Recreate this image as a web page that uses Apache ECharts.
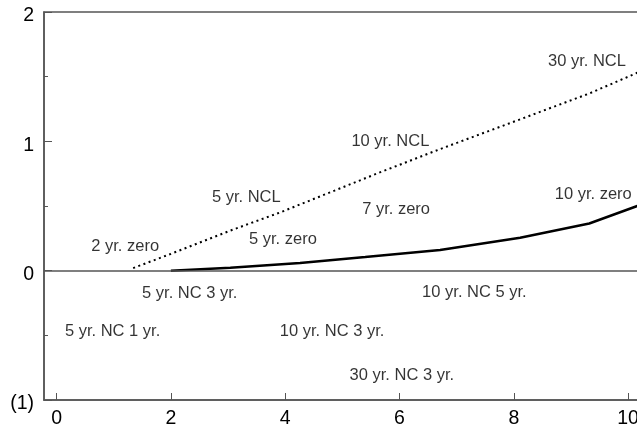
<!DOCTYPE html>
<html><head><meta charset="utf-8">
<script src="https://cdn.jsdelivr.net/npm/echarts@6/dist/echarts.min.js"></script>
<style>html,body{margin:0;padding:0;background:#fff}#c{width:637px;height:431px}</style>
</head><body><div id="c"></div>
<script>
// data
const xTicks = [0, 2, 4, 6, 8, 10];
const yTicks = [-1, 0, 1, 2];
const zeroX = [2.0, 3.04, 4.26, 5.4, 6.71, 8.11, 9.32, 10.16, 10.6];
const zeroY = [0.0, 0.023, 0.06, 0.105, 0.16, 0.255, 0.365, 0.5, 0.57];
const nclX = [1.34, 2.0, 3.04, 3.91, 5.6, 6.71, 8.11, 9.32, 10.16, 10.6];
const nclY = [0.02, 0.13, 0.31, 0.45, 0.75, 0.94, 1.17, 1.37, 1.53, 1.6];
const noteText = ["30 yr. NCL", "10 yr. NCL", "5 yr. NCL", "7 yr. zero", "10 yr. zero", "5 yr. zero", "2 yr. zero",
  "5 yr. NC 3 yr.", "10 yr. NC 5 yr.", "5 yr. NC 1 yr.", "10 yr. NC 3 yr.", "30 yr. NC 3 yr."];
const noteX = [9.28, 5.84, 3.32, 5.94, 9.39, 3.96, 1.2, 2.33, 7.31, 0.98, 4.82, 6.04];
const noteY = [1.62, 1.0, 0.566, 0.477, 0.593, 0.244, 0.19, -0.18, -0.17, -0.473, -0.473, -0.81];

const FONT = "'Liberation Sans', Arial, sans-serif";
const chart = echarts.init(document.getElementById('c'), null, {renderer: 'canvas'});
const axisCol = '#555';
chart.setOption({
  animation: false,
  grid: {left: 44, top: 12, width: 612.7, height: 388, outerBoundsMode: 'none', containLabel: false,
    show: true, borderColor: axisCol, borderWidth: 1.5, backgroundColor: 'transparent'},
  xAxis: {
    type: 'value', min: -0.22, max: 10.5,
    axisLine: {show: true, onZero: false, lineStyle: {color: axisCol, width: 1.5}},
    axisTick: {show: true, inside: true, length: 7, customValues: xTicks, lineStyle: {color: axisCol, width: 1}},
    axisLabel: {customValues: xTicks, color: '#000', fontSize: 19.5, fontFamily: FONT, margin: 9},
    splitLine: {show: false}
  },
  yAxis: {
    type: 'value', min: -1, max: 2, interval: 1,
    axisLine: {show: true, onZero: false, lineStyle: {color: axisCol, width: 1.5}},
    axisTick: {show: true, inside: true, length: 8, lineStyle: {color: axisCol, width: 1}},
    minorTick: {show: true, splitNumber: 2, length: 4, lineStyle: {color: axisCol, width: 1}},
    axisLabel: {color: '#000', fontSize: 19.5, fontFamily: FONT, margin: 10,
      formatter: v => '{a|' + (v < 0 ? '(' + (-v) + ')' : String(v)) + '}',
      rich: {a: {fontSize: 19.5, fontFamily: FONT, color: '#000', padding: [8, 0, 0, 0]}}},
    splitLine: {show: false}
  },
  series: [
    {
      type: 'line', data: zeroX.map((x, i) => [x, zeroY[i]]), symbol: 'none',
      lineStyle: {color: '#000', width: 2.5}, z: 3,
      markLine: {silent: true, symbol: 'none', label: {show: false},
        lineStyle: {color: axisCol, width: 1.5, type: 'solid'}, data: [{yAxis: 0}]}
    },
    {
      type: 'line', data: nclX.map((x, i) => [x, nclY[i]]), symbol: 'none',
      lineStyle: {color: '#000', width: 2, type: [2, 3.5]}, z: 3
    },
    {
      type: 'scatter', symbolSize: 0, silent: true,
      data: noteX.map((x, i) => ({value: [x, noteY[i]], name: noteText[i]})),
      label: {show: true, position: 'inside', formatter: p => p.name, color: '#000', fontSize: 16.5, fontFamily: FONT}
    }
  ]
});
</script></body></html>
